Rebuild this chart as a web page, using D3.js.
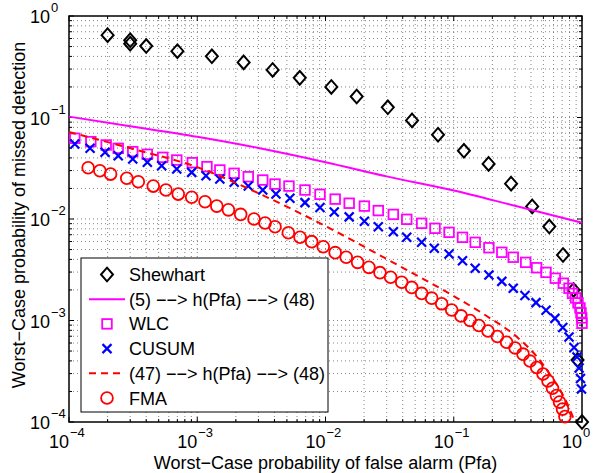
<!DOCTYPE html>
<meta charset="utf-8">
<style>
  body { margin: 0; background: #fff; }
  svg text { font-family: "Liberation Sans", Arial, Helvetica, sans-serif; }
</style>
<body>
<div id="chart"></div>
<script src="https://cdnjs.cloudflare.com/ajax/libs/d3/7.8.5/d3.min.js"></script>
<script>
// ---- data ----
var decades = [1e-4, 1e-3, 1e-2, 1e-1, 1];
var exponents = ["\u22124", "\u22123", "\u22122", "\u22121", "0"];

var shewhartPfa = [2.0e-4, 3.0e-4, 3.0e-4, 4.0e-4, 7.0e-4, 1.30e-3, 2.30e-3, 3.87e-3, 6.3e-3, 0.0111, 0.0175, 0.0306,
  0.0473, 0.0754, 0.120, 0.187, 0.280, 0.409, 0.556, 0.711, 0.859, 0.923, 1.0];
var shewhartPmd = [0.648, 0.577, 0.533, 0.506, 0.450, 0.401, 0.349, 0.294, 0.246, 0.200, 0.161, 0.126,
  0.0936, 0.0676, 0.0470, 0.0349, 0.0223, 0.0133, 0.00843, 0.00442, 0.00200, 0.000408, 0.0001];

var boundPfa = [1e-4, 3e-4, 1e-3, 3e-3, 1e-2, 3e-2, 0.1, 0.3, 1];
var boundPmd = [0.102, 0.0822, 0.0646, 0.0501, 0.0363, 0.0263, 0.0191, 0.0135, 0.0092];

var wlcPfa = [1.11e-4, 1.48e-4, 1.95e-4, 2.42e-4, 3.14e-4, 4.08e-4, 5.38e-4, 6.92e-4, 9.15e-4, 1.19e-3, 1.50e-3, 1.94e-3,
  2.50e-3, 3.24e-3, 4.04e-3, 5.19e-3, 6.92e-3, 9.06e-3, 0.0119, 0.0153, 0.0201, 0.0258, 0.0338, 0.0430, 0.0562, 0.0714,
  0.0919, 0.117, 0.147, 0.188, 0.237, 0.291, 0.364, 0.443, 0.524, 0.619, 0.715, 0.792, 0.844, 0.890, 0.931, 0.964, 0.982,
  0.995, 1.0];
var wlcPmd = [0.0624, 0.0578, 0.0536, 0.0497, 0.0461, 0.0434, 0.0405, 0.0381, 0.0359, 0.0328, 0.0304, 0.0282,
  0.0261, 0.0242, 0.0221, 0.0211, 0.0193, 0.0175, 0.0157, 0.0143, 0.0134, 0.0121, 0.0111, 0.00993, 0.00907, 0.00810,
  0.00739, 0.00660, 0.00589, 0.00521, 0.00470, 0.00420, 0.00374, 0.00331, 0.00298, 0.00261, 0.00233, 0.00208, 0.00185,
  0.00167, 0.00149, 0.00133, 0.00119, 0.00106, 0.00094];

var cusumPfa = [1.11e-4, 1.46e-4, 1.91e-4, 2.42e-4, 3.14e-4, 4.08e-4, 5.28e-4, 6.92e-4, 9.05e-4, 1.17e-3, 1.50e-3, 1.94e-3,
  2.50e-3, 3.24e-3, 4.11e-3, 5.28e-3, 6.92e-3, 9.06e-3, 0.0117, 0.0153, 0.0201, 0.0258, 0.0338, 0.0430, 0.0562, 0.0705,
  0.0919, 0.117, 0.147, 0.188, 0.237, 0.291, 0.359, 0.438, 0.524, 0.615, 0.708, 0.792, 0.867, 0.914, 0.949, 0.973, 0.991];
var cusumPmd = [0.0548, 0.0497, 0.0454, 0.0420, 0.0390, 0.0362, 0.0335, 0.0311, 0.0288, 0.0267, 0.0248, 0.0230,
  0.0211, 0.0193, 0.0176, 0.0160, 0.0145, 0.0130, 0.0117, 0.0105, 0.00949, 0.00840, 0.00750, 0.00660, 0.00589, 0.00514,
  0.00452, 0.00388, 0.00327, 0.00281, 0.00243, 0.00208, 0.00176, 0.00150, 0.00126, 0.00105, 0.000853, 0.000688,
  0.000542, 0.000437, 0.000340, 0.000268, 0.000211];

var approxPfa = [1e-4, 3.16e-4, 1e-3, 3.16e-3, 1e-2, 3.16e-2, 0.1, 0.178, 0.316, 0.447, 0.562, 0.708, 0.794, 0.881];
var approxPmd = [0.0719, 0.0490, 0.0324, 0.0174, 0.00851, 0.00389, 0.00174, 0.00112, 0.000676, 0.000437, 0.000295,
  0.000186, 0.000138, 0.0001];

var fmaPfa = [1.41e-4, 1.74e-4, 2.11e-4, 2.82e-4, 3.47e-4, 4.54e-4, 5.70e-4, 7.11e-4, 9.05e-4, 1.15e-3, 1.42e-3, 1.75e-3,
  2.18e-3, 2.77e-3, 3.38e-3, 4.04e-3, 5.13e-3, 6.33e-3, 7.80e-3, 9.61e-3, 0.0119, 0.0145, 0.0178, 0.0218, 0.0266, 0.0322,
  0.0393, 0.0470, 0.0562, 0.0673, 0.0805, 0.0964, 0.114, 0.134, 0.157, 0.185, 0.219, 0.258, 0.301, 0.347, 0.393, 0.443,
  0.497, 0.543, 0.589, 0.632, 0.668, 0.705, 0.736];
var fmaPmd = [0.0320, 0.0299, 0.0277, 0.0252, 0.0233, 0.0211, 0.0193, 0.0176, 0.0164, 0.0148, 0.0134, 0.0123,
  0.0111, 0.0100, 0.00914, 0.00840, 0.00733, 0.00660, 0.00598, 0.00533, 0.00466, 0.00420, 0.00374, 0.00334, 0.00296,
  0.00267, 0.00238, 0.00212, 0.00185, 0.00166, 0.00146, 0.00127, 0.00111, 0.00100, 0.000893, 0.000788, 0.000696,
  0.000611, 0.000536, 0.000466, 0.000399, 0.000344, 0.000297, 0.000254, 0.000215, 0.000182, 0.000157, 0.000134,
  0.000113];

var legendLabels = ["Shewhart", "(5) \u2212\u2212> h(Pfa) \u2212\u2212> (48)", "WLC", "CUSUM",
  "(47) \u2212\u2212> h(Pfa) \u2212\u2212> (48)", "FMA"];

// ---- layout ----
var width = 595, height = 473;
var plotL = 69, plotR = 582, plotT = 16, plotB = 422;

var x = d3.scaleLog().domain([1e-4, 1]).range([plotL, plotR]);
var y = d3.scaleLog().domain([1e-4, 1]).range([plotB, plotT]);

var svg = d3.select("#chart").append("svg")
  .attr("width", width)
  .attr("height", height);

var minor = [];
for (var d = -4; d < 0; d++) {
  for (var k = 2; k <= 9; k++) minor.push(k * Math.pow(10, d));
}

// grid (dotted, major + minor)
var grid = svg.append("g").attr("stroke", "#666").attr("stroke-width", 0.8).attr("stroke-dasharray", "1,3");
decades.concat(minor).forEach(function (v) {
  if (v > 1e-4 && v < 1) {
    grid.append("line").attr("x1", x(v)).attr("x2", x(v)).attr("y1", plotT).attr("y2", plotB);
    grid.append("line").attr("y1", y(v)).attr("y2", y(v)).attr("x1", plotL).attr("x2", plotR);
  }
});

// ticks on all four sides, pointing inward
var ticks = svg.append("g").attr("stroke", "#000").attr("stroke-width", 1);
function tickSet(vals, len) {
  vals.forEach(function (v) {
    ticks.append("line").attr("x1", x(v)).attr("x2", x(v)).attr("y1", plotB).attr("y2", plotB - len);
    ticks.append("line").attr("x1", x(v)).attr("x2", x(v)).attr("y1", plotT).attr("y2", plotT + len);
    ticks.append("line").attr("y1", y(v)).attr("y2", y(v)).attr("x1", plotL).attr("x2", plotL + len);
    ticks.append("line").attr("y1", y(v)).attr("y2", y(v)).attr("x1", plotR).attr("x2", plotR - len);
  });
}
tickSet(decades, 5);
tickSet(minor, 3);

svg.append("rect")
  .attr("x", plotL).attr("y", plotT)
  .attr("width", plotR - plotL).attr("height", plotB - plotT)
  .attr("fill", "none").attr("stroke", "#000").attr("stroke-width", 1.5);

// tick labels: "10" ending at the tick, exponent after
decades.forEach(function (v, i) {
  svg.append("text").attr("x", x(v)).attr("y", 448).attr("font-size", 18)
    .attr("text-anchor", "end").text("10");
  svg.append("text").attr("x", x(v) + 1).attr("y", 437).attr("font-size", 13).text(exponents[i]);

  svg.append("text").attr("x", 50).attr("y", y(v) + 7).attr("font-size", 18)
    .attr("text-anchor", "end").text("10");
  svg.append("text").attr("x", 51).attr("y", y(v) - 4).attr("font-size", 13).text(exponents[i]);
});

svg.append("text")
  .attr("x", (plotL + plotR) / 2).attr("y", 469)
  .attr("text-anchor", "middle").attr("font-size", 18)
  .text("Worst\u2212Case probability of false alarm (Pfa)");

svg.append("text")
  .attr("transform", "translate(25,215) rotate(-90)")
  .attr("text-anchor", "middle").attr("font-size", 18)
  .text("Worst\u2212Case probability of missed detection");

// ---- markers ----
function marker(g, type, cx, cy) {
  if (type === "diamond") {
    g.append("path").attr("d", "M" + cx + "," + (cy - 6.8) + "L" + (cx + 6) + "," + cy + "L" + cx + "," + (cy + 6.8) +
      "L" + (cx - 6) + "," + cy + "Z")
      .attr("fill", "none").attr("stroke", "#000").attr("stroke-width", 2);
  } else if (type === "square") {
    g.append("rect").attr("x", cx - 4.8).attr("y", cy - 4.8).attr("width", 9.6).attr("height", 9.6)
      .attr("fill", "none").attr("stroke", "#ff00ff").attr("stroke-width", 1.8);
  } else if (type === "x") {
    g.append("path").attr("d", "M" + (cx - 4.5) + "," + (cy - 4.5) + "L" + (cx + 4.5) + "," + (cy + 4.5) +
      "M" + (cx - 4.5) + "," + (cy + 4.5) + "L" + (cx + 4.5) + "," + (cy - 4.5))
      .attr("stroke", "#0000ff").attr("stroke-width", 2.2);
  } else if (type === "circle") {
    g.append("circle").attr("cx", cx).attr("cy", cy).attr("r", 5.9)
      .attr("fill", "none").attr("stroke", "#ff0000").attr("stroke-width", 1.8);
  }
}

function scatter(xs, ys, type) {
  var g = svg.append("g");
  xs.forEach(function (v, i) { marker(g, type, x(v), y(ys[i])); });
}

var line = d3.line()
  .x(function (p) { return x(p[0]); })
  .y(function (p) { return y(p[1]); })
  .curve(d3.curveMonotoneX);

scatter(shewhartPfa, shewhartPmd, "diamond");

svg.append("path")
  .datum(d3.zip(boundPfa, boundPmd))
  .attr("d", line)
  .attr("fill", "none").attr("stroke", "#ff00ff").attr("stroke-width", 2);

scatter(wlcPfa, wlcPmd, "square");
scatter(cusumPfa, cusumPmd, "x");

svg.append("path")
  .datum(d3.zip(approxPfa, approxPmd))
  .attr("d", line)
  .attr("fill", "none").attr("stroke", "#ff0000").attr("stroke-width", 2)
  .attr("stroke-dasharray", "7,5");

scatter(fmaPfa, fmaPmd, "circle");

// ---- legend ----
var lg = svg.append("g");
lg.append("rect").attr("x", 81).attr("y", 258).attr("width", 247).attr("height", 154)
  .attr("fill", "#fff").attr("stroke", "#000").attr("stroke-width", 1);

var legendTypes = ["diamond", "solid", "square", "x", "dashed", "circle"];
legendLabels.forEach(function (label, i) {
  var ry = 274.5 + i * 24.7;
  var type = legendTypes[i];
  if (type === "solid" || type === "dashed") {
    lg.append("line").attr("x1", 89).attr("x2", 125).attr("y1", ry).attr("y2", ry)
      .attr("stroke", type === "solid" ? "#ff00ff" : "#ff0000").attr("stroke-width", 2)
      .attr("stroke-dasharray", type === "dashed" ? "7,5" : null);
  } else {
    marker(lg, type, 107, ry);
  }
  lg.append("text").attr("x", 129).attr("y", ry + 6.5).attr("font-size", 18).text(label);
});
</script>
</body>
